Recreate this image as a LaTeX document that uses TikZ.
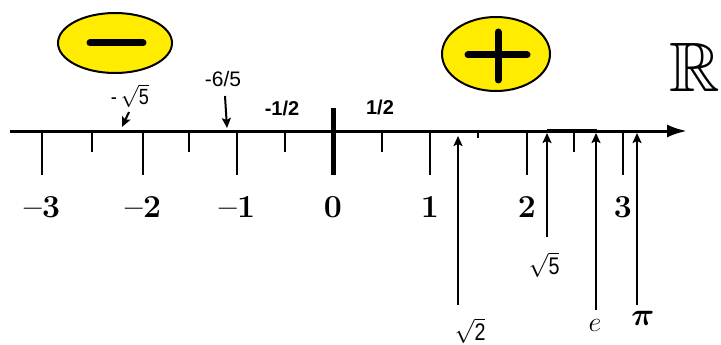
\RequirePackage{fix-cm}
\documentclass[tikz,border=0pt]{standalone}
\usepackage{amsmath,amssymb}
\usepackage{fontspec}
\newfontfamily\arial{Liberation Sans}
\newfontfamily\narrow[FakeStretch=0.82]{Liberation Sans}
\usetikzlibrary{arrows.meta}
\definecolor{signyellow}{RGB}{255,236,0}
\begin{document}
\begin{tikzpicture}[x=1pt,y=-1pt,
  axisline/.style={line width=3pt},
  majortick/.style={line width=2pt},
  halftick/.style={line width=2pt},
  signoval/.style={draw=black,line width=2pt,fill=signyellow},
  signbar/.style={line width=7pt,line cap=round},
  pointer/.style={line width=2pt,-{Stealth[length=10pt,width=9pt,inset=2pt]}},
  numlab/.style={font=\fontsize{32}{32}\selectfont\bfseries,inner sep=0pt},
  fraclab/.style={font=\arial\fontsize{21}{21}\selectfont,inner sep=0pt},
  boldfrac/.style={font=\arial\bfseries\fontsize{20}{20}\selectfont,inner sep=0pt},
  rootlab/.style={font=\narrow\fontsize{24}{24}\selectfont,inner sep=0pt}]
\useasboundingbox (0,0) rectangle (721,345);

% sign ovals
\draw[signoval] (115,43) ellipse (57 and 30);
\draw[signbar] (90,43) -- (143,43);
\draw[signoval] (496,54) ellipse (54 and 37);
\draw[signbar] (468,55) -- (527,55);
\draw[signbar] (498,32) -- (498,80);

% R
\node[inner sep=0pt] (R) at (695,67) {\fontsize{70}{70}\selectfont$\mathbb{R}$};

% axis
\coordinate (axL) at (10,131);
\coordinate (axR) at (687,131);
\draw[axisline,-{Latex[length=20pt,width=13pt]}] (axL) -- (axR);
\draw[line width=4pt] (547,131) -- (597,131);

% ticks
\foreach \x in {42,143,237,430,527,623}
  \draw[majortick] (\x,131) -- (\x,175);
\draw[line width=5pt] (333,108) -- (333,175);
\foreach \x in {92,189,285,382,574}
  \draw[halftick] (\x,131) -- (\x,152);
\draw[halftick] (478,131) -- (478,138);

% integer labels
\node[numlab] (nm3) at (42,207) {\textendash3};
\node[numlab] (nm2) at (143,207) {\textendash2};
\node[numlab] (nm1) at (237,207) {\textendash1};
\node[numlab] (n0) at (333,207) {0};
\node[numlab] (n1) at (430,207) {1};
\node[numlab] (n2) at (527,207) {2};
\node[numlab] (n3) at (623,207) {3};

% labels above the axis
\node[rootlab,font=\narrow\fontsize{22}{22}\selectfont] (ms5) at (130,96) {-\,$\sqrt{\hbox{5}}$};
\node[fraclab] (m65) at (223,79) {-6/5};
\node[boldfrac] (m12) at (282,108) {-1/2};
\node[boldfrac] (p12) at (380,107) {1/2};

\coordinate (ms5s) at (129,112);
\coordinate (ms5e) at (122,127);
\draw[pointer] (ms5s) -- (ms5e);
\coordinate (m65s) at (225,96);
\coordinate (m65e) at (227,128);
\draw[pointer] (m65s) -- (m65e);

% labels below with long arrows
\node[rootlab] (r2) at (470,331) {$\sqrt{\hbox{2}}$};
\node[rootlab] (r5) at (544,265) {$\sqrt{\hbox{5}}$};
\node[inner sep=0pt] (elab) at (595,325) {\fontsize{28}{28}\selectfont$e$};
\node[inner sep=0pt] (pilab) at (643,318) {\fontsize{32}{32}\selectfont$\boldsymbol{\pi}$};

\coordinate (r2s) at (458,305);  \coordinate (r2e) at (458,136);
\coordinate (r5s) at (547,237);  \coordinate (r5e) at (547,133);
\coordinate (es) at (596,310);  \coordinate (ee) at (596,133);
\coordinate (ps) at (637,305);  \coordinate (pe) at (637,133);
\draw[pointer] (r2s) -- (r2e);
\draw[pointer] (r5s) -- (r5e);
\draw[pointer] (es) -- (ee);
\draw[pointer] (ps) -- (pe);
\end{tikzpicture}
\end{document}
